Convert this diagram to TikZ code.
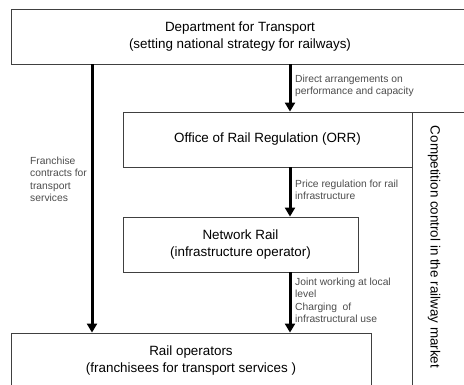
\documentclass[tikz,border=0pt]{standalone}
\usepackage{fontspec}
\setmainfont{Liberation Sans}
\usetikzlibrary{arrows.meta}

\begin{document}
\begin{tikzpicture}[x=1pt,y=-1pt,
    box/.style={draw=black!75,line width=0.9pt,fill=white,inner sep=0pt,align=center,font=\fontsize{13.4}{17}\selectfont},
    flow/.style={line width=3pt,-{Triangle[width=10pt,length=9pt]}},
    note/.style={anchor=north west,inner sep=0pt,align=left,text=black!70,font=\fontsize{10.3}{12.2}\selectfont}]
    \clip (0,0) rectangle (464,384);
    % Boxes
    \node[box,minimum width=458pt,minimum height=55pt] (dft) at (240,36.5) {Department for Transport\\(setting national strategy for railways)};
    \node[box,minimum width=289pt,minimum height=55pt] (orr) at (267.5,139.5) {Office of Rail Regulation (ORR)};
    \node[box,minimum width=235pt,minimum height=55pt] (nr) at (240.5,244.5) {Network Rail\\(infrastructure operator)};
    \node[box,minimum width=360pt,minimum height=56pt] (rail) at (191,361) {Rail operators\\(franchisees for transport services )};
    \node[box,minimum width=60pt,minimum height=290pt,anchor=north west] (comp) at (412,112) {};
    \node[rotate=-90,inner sep=0pt,font=\fontsize{13.4}{15}\selectfont] (comptxt) at (434,247) {Competition control in the railway market};
    % Arrows
    \coordinate (axis) at (290,0);
    \coordinate (franchise) at (92,0);
    \draw[flow] (dft.south -| franchise) -- (rail.north -| franchise);
    \draw[flow] (dft.south -| axis) -- (orr.north -| axis);
    \draw[flow] (orr.south -| axis) -- (nr.north -| axis);
    \draw[flow] (nr.south -| axis) -- (rail.north -| axis);
    % Labels
    \node[note] (direct) at (295,75) {Direct arrangements on\\performance and capacity};
    \node[note] (contracts) at (30,157) {Franchise\\contracts for\\transport\\services};
    \node[note] (price) at (295,180) {Price regulation for rail\\infrastructure};
    \node[note] (joint) at (295,278) {Joint working at local\\level\\Charging\ \ of\\infrastructural use};
\end{tikzpicture}
\end{document}
